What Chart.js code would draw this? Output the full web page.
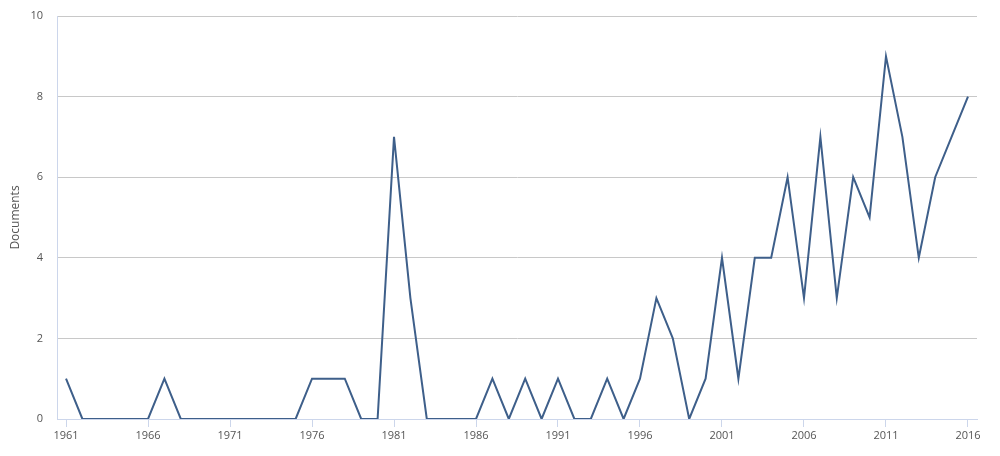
<!DOCTYPE html>
<html>
<head>
<meta charset="utf-8">
<script src="https://cdn.jsdelivr.net/npm/chart.js@4/dist/chart.umd.min.js"></script>
<style>
  html, body { margin: 0; padding: 0; background: #fff; }
  #wrap { width: 1000px; height: 456px; position: relative; }
</style>
</head>
<body>
<div id="wrap"><canvas id="docChart"></canvas></div>
<script>
// Documentos por ano
const anos = [];
for (let a = 1961; a <= 2016; a++) anos.push(a);
const documentos = [
  1, 0, 0, 0, 0, 0, 1, 0, 0, 0,
  0, 0, 0, 0, 0, 1, 1, 1, 0, 0,
  7, 3, 0, 0, 0, 0, 1, 0, 1, 0,
  1, 0, 0, 1, 0, 1, 3, 2, 0, 1,
  4, 1, 4, 4, 6, 3, 7, 3, 6, 5,
  9, 7, 4, 6, 7, 8
];
const anosRotulo = [1961, 1966, 1971, 1976, 1981, 1986, 1991, 1996, 2001, 2006, 2011, 2016];
const valoresY = [0, 2, 4, 6, 8, 10];

const fonte = { family: 'Open Sans', size: 11 };

const ctx = document.getElementById('docChart').getContext('2d');
new Chart(ctx, {
  type: 'line',
  data: {
    datasets: [{
      label: 'Documents',
      data: anos.map((a, i) => ({ x: a, y: documentos[i] })),
      borderColor: '#3e5f8a',
      borderWidth: 2,
      pointRadius: 0,
      tension: 0,
      fill: false
    }]
  },
  options: {
    responsive: true,
    maintainAspectRatio: false,
    animation: false,
    layout: { padding: { top: 16, right: 23, left: 0, bottom: 0 } },
    plugins: {
      legend: { display: false },
      tooltip: { enabled: false }
    },
    scales: {
      x: {
        type: 'linear',
        min: 1960.45,
        max: 2016.55,
        afterBuildTicks: axis => { axis.ticks = anosRotulo.map(v => ({ value: v })); },
        afterFit: axis => { axis.height = 37; },
        border: { color: '#ccd6eb', width: 1 },
        grid: { drawOnChartArea: false, drawTicks: true, tickLength: 8, color: '#ccd6eb' },
        ticks: {
          color: '#555',
          font: fonte,
          padding: 2,
          maxRotation: 0,
          autoSkip: false,
          callback: v => String(v)
        }
      },
      y: {
        min: 0,
        max: 10,
        afterBuildTicks: axis => { axis.ticks = valoresY.map(v => ({ value: v })); },
        afterFit: axis => {
          axis.width = 57;
          axis.paddingTop = 0;
          axis.paddingBottom = 0;
        },
        border: { color: '#ccd6eb', width: 1 },
        grid: { color: '#c8c8c8', drawTicks: false },
        ticks: { color: '#555', font: fonte, padding: 14 },
        title: {
          display: true,
          text: 'Documents',
          color: '#555',
          font: { family: 'Open Sans', size: 12 },
          padding: { top: 8, bottom: 4 }
        }
      }
    }
  }
});
</script>
</body>
</html>
